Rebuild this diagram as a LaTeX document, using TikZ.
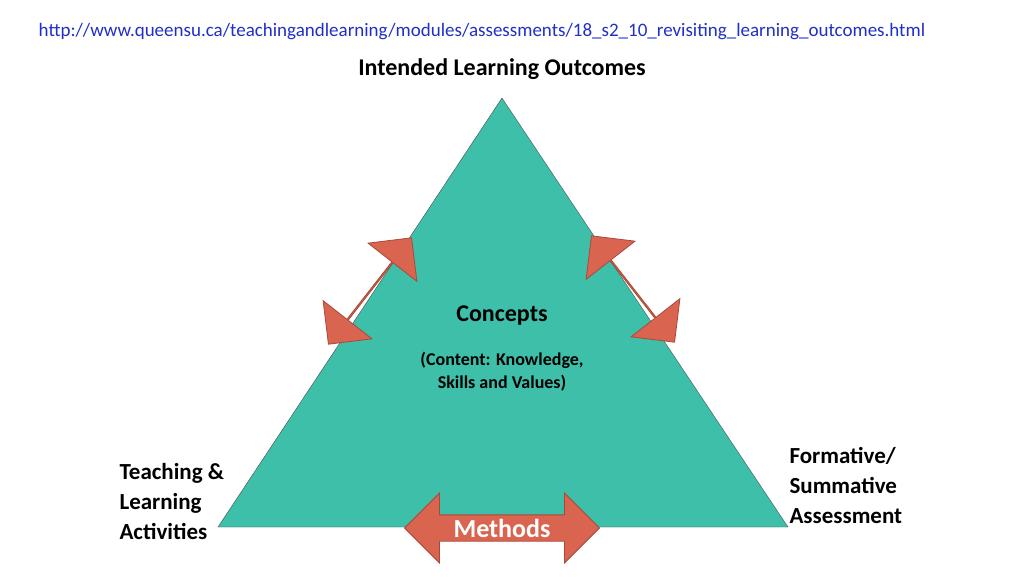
\documentclass[tikz,border=0pt]{standalone}
\usepackage{fontspec}
\setmainfont{Carlito}
\usetikzlibrary{shapes.arrows}
\definecolor{tealfill}{HTML}{3DBFAA}
\definecolor{arrowred}{HTML}{D9644F}
\definecolor{arrowline}{HTML}{A84A3A}
\definecolor{linkblue}{HTML}{1F2FC8}
\tikzset{
  dblarrow/.style={double arrow, fill=arrowred, draw=arrowline, thick,
    double arrow head extend=16pt, inner sep=0pt, font=\bfseries\fontsize{26}{28}\selectfont, text=white},
  corner/.style={font=\bfseries\fontsize{23}{30}\selectfont, align=left}
}
\begin{document}
\begin{tikzpicture}[x=1pt,y=-1pt]
    \useasboundingbox (0,0) rectangle (1024,576);
    % triangle
    \draw[fill=tealfill, draw=black!70] (502,98) coordinate (apex) -- (218,527) coordinate (bl) -- (788,527) coordinate (br) -- cycle;
    % double arrows
    \node[dblarrow, minimum height=135pt, minimum width=62pt, rotate=52] (leftarrow) at (370,291) {};
    \node[dblarrow, minimum height=135pt, minimum width=62pt, rotate=-52] (rightarrow) at (633,289) {};
    \node[dblarrow, minimum height=195pt, minimum width=70pt] (methods) at (502,528) {Methods};
    % labels
    \node[font=\fontsize{19}{22}\selectfont, text=linkblue] (url) at (482,32) {http://www.queensu.ca/teachingandlearning/modules/assessments/18\_s2\_10\_revisiting\_learning\_outcomes.html};
    \node[font=\bfseries\fontsize{24}{26}\selectfont] (ilo) at (502,69) {Intended Learning Outcomes};
    \node[font=\bfseries\fontsize{24}{26}\selectfont] (concepts) at (502,316) {Concepts};
    \node[font=\bfseries\fontsize{18}{23}\selectfont, align=center] (content) at (502,372) {(Content: Knowledge,\\Skills and Values)};
    \node[corner, anchor=north west] (tla) at (116,460) {Teaching \&\\Learning\\Activities};
    \node[corner, anchor=north west] (fsa) at (786,444) {Formative/\\Summative\\Assessment};
\end{tikzpicture}
\end{document}
